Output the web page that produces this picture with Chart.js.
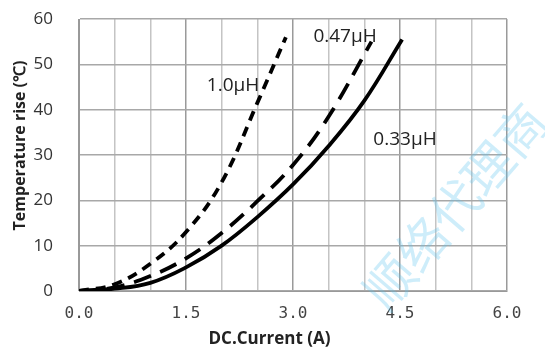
<!DOCTYPE html>
<html><head><meta charset="utf-8">
<script src="https://cdn.jsdelivr.net/npm/chart.js@4"></script>
<style>html,body{margin:0;padding:0;background:#fff}#wrap{width:545px;height:351px;position:relative}</style>
</head><body><div id="wrap"><canvas id="c"></canvas></div>
<script>
// DC current (A) and temperature rise (°C)
const current033 = [0, 0.5, 1.0, 1.5, 2.0, 2.5, 3.0, 3.5, 4.0, 4.53];
const temp033    = [0, 0.5, 1.8, 5.2, 10, 16.3, 23.5, 32, 42, 55.5];
const current047 = [0, 0.5, 1.0, 1.5, 2.0, 2.5, 3.0, 3.5, 4.1];
const temp047    = [0, 0.8, 3.3, 7.2, 12.8, 19.8, 27.8, 38.5, 55];
const current10  = [0, 0.5, 1.0, 1.5, 2.0, 2.5, 2.9];
const temp10     = [0, 1.5, 6, 13, 24, 41.5, 56];
const seriesNames = ['0.33\u03BCH', '0.47\u03BCH', '1.0\u03BCH'];
const xTickLabels = ['0.0', '1.5', '3.0', '4.5', '6.0'];
const yTickLabels = ['0', '10', '20', '30', '40', '50', '60'];
const xTitle = 'DC.Current (A)';
const yTitle = 'Temperature rise (\u2103)';
const watermark = '\u987A\u7EDC\u4EE3\u7406\u5546';

const toPts = (xs, ys) => xs.map((x, i) => ({x, y: ys[i]}));

// label anchors in data units
const labelPos = [
  {name: seriesNames[0], x: 4.57, y: 33.3},
  {name: seriesNames[1], x: 3.73, y: 56.2},
  {name: seriesNames[2], x: 2.16, y: 45.4}
];

const overlay = {
  id: 'overlay',
  afterDraw(chart) {
    const ctx = chart.ctx, xs = chart.scales.x, ys = chart.scales.y, ca = chart.chartArea;
    ctx.save();
    ctx.fillStyle = '#222';
    ctx.font = '19px "Open Sans"';
    ctx.textAlign = 'center';
    ctx.textBaseline = 'middle';
    labelPos.forEach(l => {
      ctx.fillText(l.name, xs.getPixelForValue(l.x), ys.getPixelForValue(l.y));
    });
    // axis titles
    ctx.font = 'bold 17px "Open Sans"';
    ctx.fillText(xTitle, ca.left + (ca.right - ca.left) * 0.445, 339);
    ctx.font = 'bold 16px "Open Sans"';
    ctx.translate(20, ca.top + (ca.bottom - ca.top) * 0.465);
    ctx.rotate(-Math.PI / 2);
    ctx.fillText(yTitle, 0, 0);
    ctx.restore();
    // watermark
    ctx.save();
    ctx.globalAlpha = 0.3;
    ctx.fillStyle = '#5cc3f0';
    ctx.font = '50px "Noto Sans CJK SC"';
    ctx.translate(455, 206);
    ctx.rotate(-0.86);
    ctx.textAlign = 'center';
    ctx.textBaseline = 'middle';
    ctx.fillText(watermark, 0, 0);
    ctx.restore();
  }
};

const isMajor = v => Math.abs(v / 1.5 - Math.round(v / 1.5)) < 1e-6;

new Chart(document.getElementById('c'), {
  type: 'line',
  data: {
    datasets: [
      {label: seriesNames[0], data: toPts(current033, temp033), borderColor: '#000', borderWidth: 3.8, pointRadius: 0, tension: 0.4, fill: false},
      {label: seriesNames[1], data: toPts(current047, temp047), borderColor: '#000', borderWidth: 3.8, borderDash: [18, 10], pointRadius: 0, tension: 0.4, fill: false},
      {label: seriesNames[2], data: toPts(current10, temp10), borderColor: '#000', borderWidth: 3.8, borderDash: [10, 7], pointRadius: 0, tension: 0.4, fill: false}
    ]
  },
  options: {
    responsive: true,
    maintainAspectRatio: false,
    animation: false,
    devicePixelRatio: 1,
    layout: {padding: {top: 19, right: 38, left: 0, bottom: 0}},
    plugins: {legend: {display: false}, tooltip: {enabled: false}},
    scales: {
      x: {
        type: 'linear', min: 0, max: 6,
        afterFit: s => { s.height = 60; s.paddingLeft = 0; s.paddingRight = 0; },
        border: {color: '#999', width: 1},
        grid: {drawTicks: false, lineWidth: 1.5, color: c => isMajor(c.tick.value) ? '#9a9a9a' : '#c4c4c4'},
        ticks: {
          stepSize: 0.5, autoSkip: false, maxRotation: 0, padding: 13,
          color: '#444', font: {family: '"DejaVu Sans Mono"', size: 16},
          callback: v => isMajor(v) ? xTickLabels[Math.round(v / 1.5)] : ''
        }
      },
      y: {
        min: 0, max: 60,
        afterFit: s => { s.width = 79; s.paddingTop = 0; s.paddingBottom = 0; },
        border: {color: '#999', width: 1},
        grid: {drawTicks: false, lineWidth: 1.5, color: '#a8a8a8'},
        ticks: {
          stepSize: 10, padding: 26, color: '#333',
          font: {family: '"Open Sans"', size: 17},
          callback: v => yTickLabels[Math.round(v / 10)]
        }
      }
    }
  },
  plugins: [overlay]
});
</script></body></html>
